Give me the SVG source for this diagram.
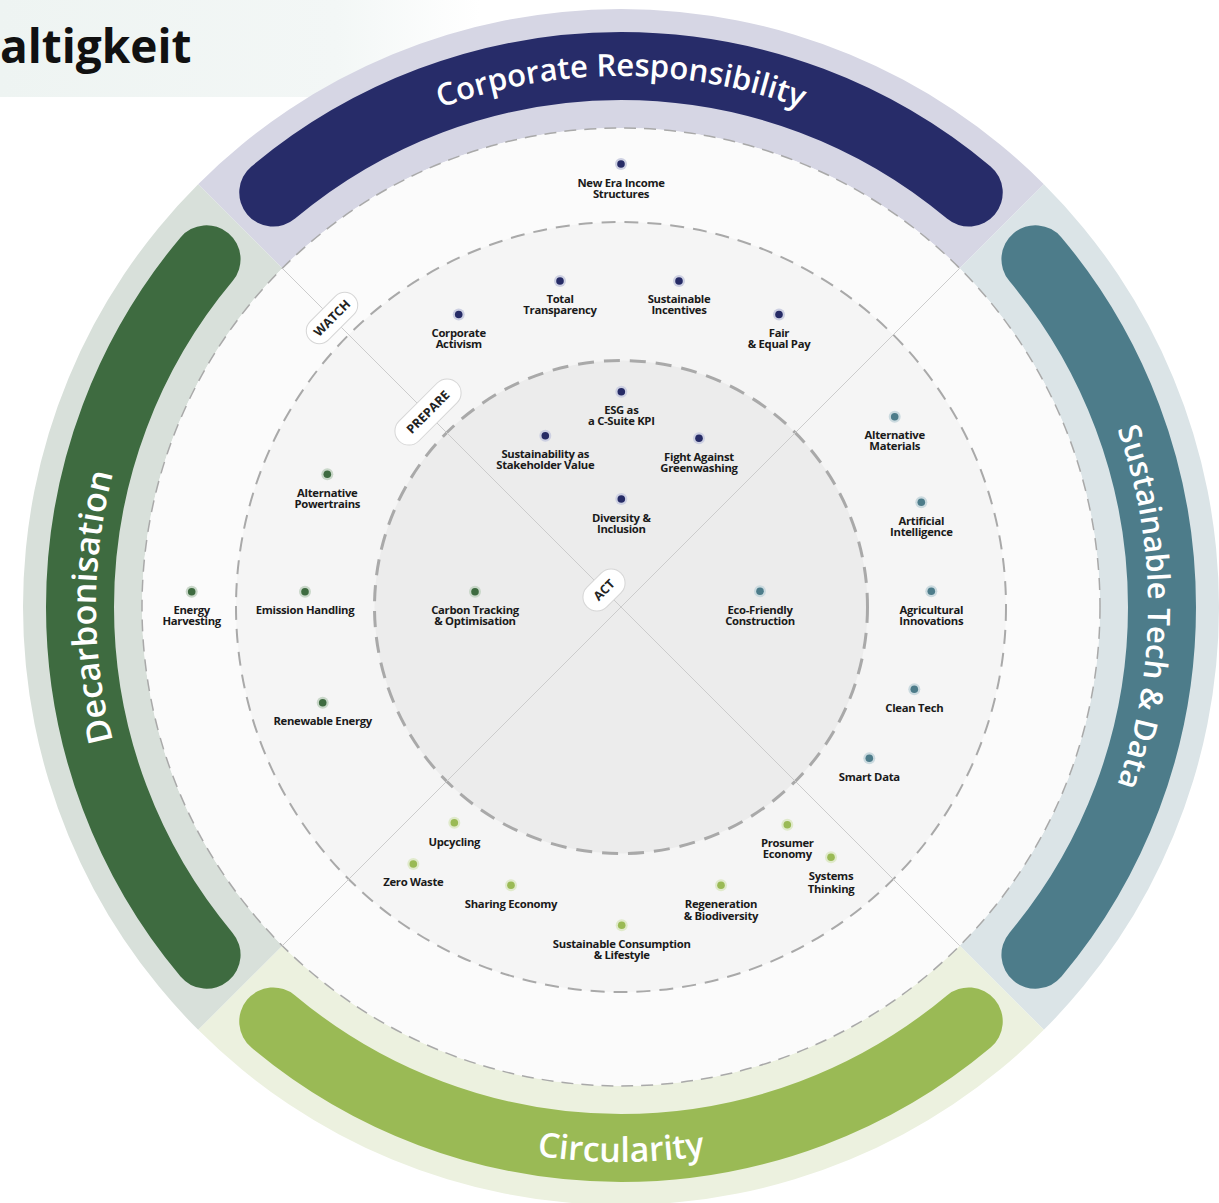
<svg xmlns="http://www.w3.org/2000/svg" width="1219" height="1203" viewBox="0 0 1219 1203">
<defs>
<linearGradient id="panelGrad" x1="0" y1="0" x2="1" y2="0">
<stop offset="0" stop-color="#eef4f2"/>
<stop offset="0.7" stop-color="#f3f7f6"/>
<stop offset="1" stop-color="#ffffff"/>
</linearGradient>
<path id="tpTop" d="M163.74,343 A525,525 0 0 1 1078.26,343"/>
<path id="tpRight" d="M885,149.74 A529,529 0 0 1 885,1064.26"/>
<path id="tpLeft" d="M357,1064.26 A531,531 0 0 1 357,149.74"/>
<path id="tpBottom" d="M141.22,884 A553,553 0 0 0 1100.78,884"/>
<style>
.lbl{font-family:"Open Sans","DejaVu Sans",sans-serif;font-size:11.3px;font-weight:700;fill:#1a1a1a;text-anchor:middle;letter-spacing:-0.3px}
.band{fill:none;stroke-width:68;stroke-linecap:round}
.btxt{font-family:"Open Sans","DejaVu Sans",sans-serif;font-weight:600;fill:#ffffff;text-anchor:middle}
.pill{fill:#ffffff;stroke:#d6d6d6;stroke-width:1}
.ptxt{font-family:"Open Sans","DejaVu Sans",sans-serif;font-size:12.5px;font-weight:700;fill:#222222;text-anchor:middle}
.hn{fill:#cdd0e2}.cn{fill:#262b66}
.hg{fill:#c9d7c9}.cg{fill:#3e6b40}
.ht{fill:#cbdadf}.ct{fill:#4d7c8a}
.hl{fill:#e0eacb}.cl{fill:#9aba55}
</style>
</defs>

<rect x="0" y="0" width="1219" height="1203" fill="#ffffff"/>
<rect x="0" y="0" width="480" height="97" fill="url(#panelGrad)"/>
<text x="0" y="63" font-family="'Open Sans','DejaVu Sans',sans-serif" font-size="46" font-weight="700" fill="#111111">altigkeit</text>

<g id="ring">
<path d="M198.15,184.15 A598,598 0 0 1 1043.85,184.15 L959.70,268.30 A479,479 0 0 0 282.30,268.30 Z" fill="#d6d6e4"/>
<path d="M1043.85,184.15 A598,598 0 0 1 1043.85,1029.85 L959.70,945.70 A479,479 0 0 0 959.70,268.30 Z" fill="#dbe4e7"/>
<path d="M1043.85,1029.85 A598,598 0 0 1 198.15,1029.85 L282.30,945.70 A479,479 0 0 0 959.70,945.70 Z" fill="#ecf1df"/>
<path d="M198.15,1029.85 A598,598 0 0 1 198.15,184.15 L282.30,268.30 A479,479 0 0 0 282.30,945.70 Z" fill="#d8e0da"/>
</g>

<g id="bands">
<path class="band" stroke="#272c69" d="M273.25,192.57 A541,541 0 0 1 968.75,192.57"/>
<path class="band" stroke="#4d7c8a" d="M1035.43,259.25 A541,541 0 0 1 1035.43,954.75"/>
<path class="band" stroke="#9aba55" d="M968.75,1021.43 A541,541 0 0 1 273.25,1021.43"/>
<path class="band" stroke="#3e6b40" d="M206.57,954.75 A541,541 0 0 1 206.57,259.25"/>
<text class="btxt" font-size="31"><textPath href="#tpTop" startOffset="50%">Corporate Responsibility</textPath></text>
<text class="btxt" font-size="31" font-weight="500"><textPath href="#tpRight" startOffset="50%">Sustainable Tech &amp; Data</textPath></text>
<text class="btxt" font-size="34"><textPath href="#tpLeft" startOffset="50%">Decarbonisation</textPath></text>
<text class="btxt" font-size="34"><textPath href="#tpBottom" startOffset="50%">Circularity</textPath></text>
</g>

<g id="zones">
<circle cx="621" cy="607" r="479" fill="#fbfbfb"/>
<circle cx="621" cy="607" r="385" fill="#f5f5f5"/>
<circle cx="621" cy="607" r="246.5" fill="#ececec"/>
<circle cx="621" cy="607" r="479" fill="none" stroke="#a9a9a9" stroke-width="1.5" stroke-dasharray="12 8"/>
<circle cx="621" cy="607" r="385" fill="none" stroke="#a9a9a9" stroke-width="2" stroke-dasharray="14 9"/>
<circle cx="621" cy="607" r="246.5" fill="none" stroke="#a9a9a9" stroke-width="3" stroke-dasharray="16 10"/>
</g>

<g id="connectors" stroke="#cccccc" stroke-width="1" fill="none">
<line x1="621" y1="607" x2="282.3" y2="268.3"/>
<line x1="621" y1="607" x2="959.7" y2="268.3"/>
<line x1="621" y1="607" x2="959.7" y2="945.7"/>
<line x1="621" y1="607" x2="282.3" y2="945.7"/>
</g>

<g id="ring-labels">
<g id="lbl-watch" transform="translate(332,318) rotate(-45)">
<rect class="pill" x="-31" y="-13" width="62" height="26" rx="13"/>
<text class="ptxt" x="0" y="4.5">WATCH</text>
</g>
<g id="lbl-prepare" transform="translate(428,412) rotate(-45)">
<rect class="pill" x="-41" y="-14" width="82" height="28" rx="14"/>
<text class="ptxt" x="0" y="4.5">PREPARE</text>
</g>
<g id="lbl-act" transform="translate(604,590) rotate(-45)">
<rect class="pill" x="-24" y="-14" width="48" height="28" rx="14"/>
<text class="ptxt" x="0" y="4.5">ACT</text>
</g>
</g>

<!-- Corporate Responsibility -->
<g id="n-new-era"><circle class="hn" cx="621" cy="164" r="6"/><circle class="cn" cx="621" cy="164" r="3.8"/><text class="lbl" x="621" y="186.5">New Era Income<tspan x="621" y="197.5">Structures</tspan></text></g>
<g id="n-total-transparency"><circle class="hn" cx="560" cy="281" r="6"/><circle class="cn" cx="560" cy="281" r="3.8"/><text class="lbl" x="560" y="303">Total<tspan x="560" y="314">Transparency</tspan></text></g>
<g id="n-sustainable-incentives"><circle class="hn" cx="679" cy="281" r="6"/><circle class="cn" cx="679" cy="281" r="3.8"/><text class="lbl" x="679" y="303">Sustainable<tspan x="679" y="314">Incentives</tspan></text></g>
<g id="n-corporate-activism"><circle class="hn" cx="458.7" cy="314.5" r="6"/><circle class="cn" cx="458.7" cy="314.5" r="3.8"/><text class="lbl" x="458.7" y="337">Corporate<tspan x="458.7" y="348">Activism</tspan></text></g>
<g id="n-fair-pay"><circle class="hn" cx="779" cy="314.5" r="6"/><circle class="cn" cx="779" cy="314.5" r="3.8"/><text class="lbl" x="779" y="337">Fair<tspan x="779" y="348">&amp; Equal Pay</tspan></text></g>
<g id="n-esg-kpi"><circle class="hn" cx="621.3" cy="391.7" r="6"/><circle class="cn" cx="621.3" cy="391.7" r="3.8"/><text class="lbl" x="621.3" y="414">ESG as<tspan x="621.3" y="425">a C-Suite KPI</tspan></text></g>
<g id="n-stakeholder-value"><circle class="hn" cx="545.3" cy="435.7" r="6"/><circle class="cn" cx="545.3" cy="435.7" r="3.8"/><text class="lbl" x="545.3" y="458">Sustainability as<tspan x="545.3" y="469">Stakeholder Value</tspan></text></g>
<g id="n-greenwashing"><circle class="hn" cx="699" cy="438.3" r="6"/><circle class="cn" cx="699" cy="438.3" r="3.8"/><text class="lbl" x="699" y="460.8">Fight Against<tspan x="699" y="471.8">Greenwashing</tspan></text></g>
<g id="n-diversity"><circle class="hn" cx="621.3" cy="499" r="6"/><circle class="cn" cx="621.3" cy="499" r="3.8"/><text class="lbl" x="621.3" y="521.5">Diversity &amp;<tspan x="621.3" y="532.5">Inclusion</tspan></text></g>

<!-- Decarbonisation -->
<g id="n-alt-powertrains"><circle class="hg" cx="327.3" cy="474.3" r="6"/><circle class="cg" cx="327.3" cy="474.3" r="3.8"/><text class="lbl" x="327.3" y="496.8">Alternative<tspan x="327.3" y="507.8">Powertrains</tspan></text></g>
<g id="n-energy-harvesting"><circle class="hg" cx="191.7" cy="591.7" r="6"/><circle class="cg" cx="191.7" cy="591.7" r="3.8"/><text class="lbl" x="191.7" y="614.2">Energy<tspan x="191.7" y="625.2">Harvesting</tspan></text></g>
<g id="n-emission-handling"><circle class="hg" cx="305" cy="591.7" r="6"/><circle class="cg" cx="305" cy="591.7" r="3.8"/><text class="lbl" x="305" y="614.2">Emission Handling</text></g>
<g id="n-carbon-tracking"><circle class="hg" cx="475" cy="591.7" r="6"/><circle class="cg" cx="475" cy="591.7" r="3.8"/><text class="lbl" x="475" y="614.2">Carbon Tracking<tspan x="475" y="625.2">&amp; Optimisation</tspan></text></g>
<g id="n-renewable-energy"><circle class="hg" cx="322.7" cy="702.7" r="6"/><circle class="cg" cx="322.7" cy="702.7" r="3.8"/><text class="lbl" x="322.7" y="725.2">Renewable Energy</text></g>

<!-- Sustainable Tech & Data -->
<g id="n-alt-materials"><circle class="ht" cx="894.7" cy="416.7" r="6"/><circle class="ct" cx="894.7" cy="416.7" r="3.8"/><text class="lbl" x="894.7" y="439.2">Alternative<tspan x="894.7" y="450.2">Materials</tspan></text></g>
<g id="n-ai"><circle class="ht" cx="921.3" cy="502.3" r="6"/><circle class="ct" cx="921.3" cy="502.3" r="3.8"/><text class="lbl" x="921.3" y="524.8">Artificial<tspan x="921.3" y="535.8">Intelligence</tspan></text></g>
<g id="n-eco-construction"><circle class="ht" cx="760" cy="591.3" r="6"/><circle class="ct" cx="760" cy="591.3" r="3.8"/><text class="lbl" x="760" y="613.8">Eco-Friendly<tspan x="760" y="624.8">Construction</tspan></text></g>
<g id="n-agri"><circle class="ht" cx="931.3" cy="591.3" r="6"/><circle class="ct" cx="931.3" cy="591.3" r="3.8"/><text class="lbl" x="931.3" y="613.8">Agricultural<tspan x="931.3" y="624.8">Innovations</tspan></text></g>
<g id="n-clean-tech"><circle class="ht" cx="914.3" cy="689.3" r="6"/><circle class="ct" cx="914.3" cy="689.3" r="3.8"/><text class="lbl" x="914.3" y="711.8">Clean Tech</text></g>
<g id="n-smart-data"><circle class="ht" cx="869.3" cy="758.3" r="6"/><circle class="ct" cx="869.3" cy="758.3" r="3.8"/><text class="lbl" x="869.3" y="780.8">Smart Data</text></g>

<!-- Circularity -->
<g id="n-upcycling"><circle class="hl" cx="454.3" cy="822.7" r="6"/><circle class="cl" cx="454.3" cy="822.7" r="3.8"/><text class="lbl" x="454.3" y="845.5">Upcycling</text></g>
<g id="n-zero-waste"><circle class="hl" cx="413.3" cy="864" r="6"/><circle class="cl" cx="413.3" cy="864" r="3.8"/><text class="lbl" x="413.3" y="886">Zero Waste</text></g>
<g id="n-sharing"><circle class="hl" cx="511" cy="885.3" r="6"/><circle class="cl" cx="511" cy="885.3" r="3.8"/><text class="lbl" x="511" y="907.5">Sharing Economy</text></g>
<g id="n-consumption"><circle class="hl" cx="621.7" cy="925.3" r="6"/><circle class="cl" cx="621.7" cy="925.3" r="3.8"/><text class="lbl" x="621.7" y="947.7">Sustainable Consumption<tspan x="621.7" y="958.7">&amp; Lifestyle</tspan></text></g>
<g id="n-regeneration"><circle class="hl" cx="721" cy="885.3" r="6"/><circle class="cl" cx="721" cy="885.3" r="3.8"/><text class="lbl" x="721" y="908">Regeneration<tspan x="721" y="920">&amp; Biodiversity</tspan></text></g>
<g id="n-prosumer"><circle class="hl" cx="787.3" cy="824.7" r="6"/><circle class="cl" cx="787.3" cy="824.7" r="3.8"/><text class="lbl" x="787.3" y="846.8">Prosumer<tspan x="787.3" y="858">Economy</tspan></text></g>
<g id="n-systems"><circle class="hl" cx="831" cy="857.3" r="6"/><circle class="cl" cx="831" cy="857.3" r="3.8"/><text class="lbl" x="831" y="880">Systems<tspan x="831" y="892.5">Thinking</tspan></text></g>
</svg>
